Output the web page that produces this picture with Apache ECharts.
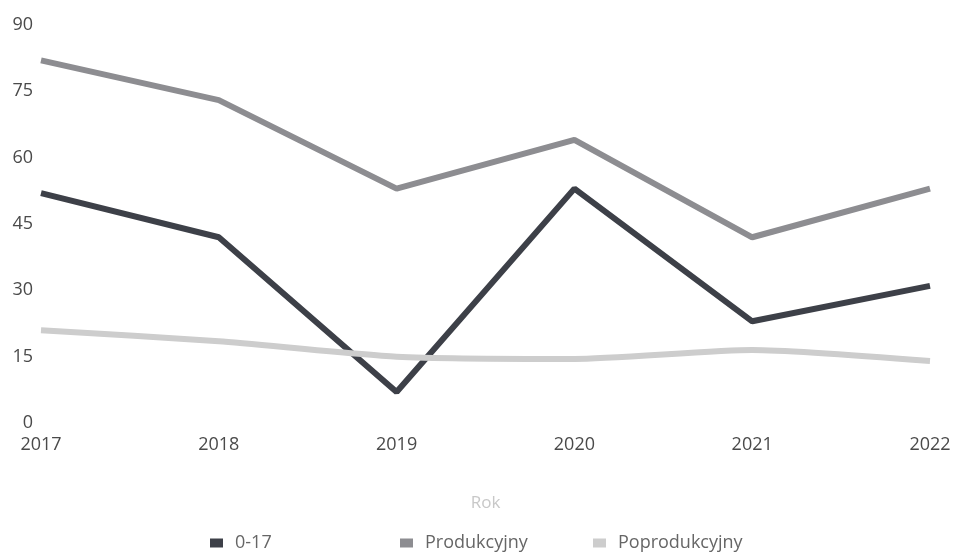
<!DOCTYPE html>
<html>
<head>
<meta charset="utf-8">
<script src="https://cdn.jsdelivr.net/npm/echarts@6/dist/echarts.min.js"></script>
<style>
    html, body { margin: 0; padding: 0; background: #fff; }
    #chart { width: 957px; height: 556px; }
</style>
</head>
<body>
<div id="chart"></div>
<script>
// dane
var years = ["2017", "2018", "2019", "2020", "2021", "2022"];
var mlodzi = [52, 42, 7, 53, 23, 31];
var produkcyjny = [82, 73, 53, 64, 42, 53];
var poprodukcyjny = [21, 18.5, 15, 14.5, 16.5, 14];
var yTicks = [0, 15, 30, 45, 60, 75, 90];

(function () {
    var myChart = echarts.init(document.getElementById("chart"));
    var font = "'Open Sans', 'Noto Sans', sans-serif";
    var colors = ["#3d4048", "#8d8d91", "#cdcdcd"];

    // osobna legenda dla kazdej serii, zeby ustawic pozycje jak w oryginale
    function legendItem(name, left) {
        return {
            data: [name],
            left: left,
            top: 529,
            icon: "rect",
            itemWidth: 13,
            itemHeight: 9,
            textStyle: {
                color: "#666",
                fontSize: 18,
                fontFamily: font,
                padding: [0, 0, 0, 7]
            }
        };
    }

    var option = {
        color: colors,
        animation: false,
        grid: {
            left: 41,
            right: 27,
            top: 25,
            bottom: 133,
            containLabel: false
        },
        legend: [
            legendItem("0-17", 205),
            legendItem("Produkcyjny", 395),
            legendItem("Poprodukcyjny", 588)
        ],
        xAxis: {
            type: "category",
            data: years,
            boundaryGap: false,
            name: "Rok",
            nameLocation: "middle",
            nameGap: 72,
            nameTextStyle: { color: "#c8c8c8", fontSize: 17, fontFamily: font },
            axisLine: { show: false },
            axisTick: { show: false },
            axisLabel: { color: "#4a4a4a", fontSize: 18, fontFamily: font, margin: 13 }
        },
        yAxis: {
            type: "value",
            min: yTicks[0],
            max: yTicks[yTicks.length - 1],
            interval: 15,
            axisLine: { show: false },
            axisTick: { show: false },
            splitLine: { show: false },
            axisLabel: {
                color: "#4a4a4a",
                fontSize: 18,
                fontFamily: font,
                margin: 8
            }
        },
        series: [
            {
                name: "0-17",
                type: "line",
                data: mlodzi,
                symbol: "none",
                lineStyle: { width: 6, color: colors[0] }
            },
            {
                name: "Produkcyjny",
                type: "line",
                data: produkcyjny,
                symbol: "none",
                lineStyle: { width: 6, color: colors[1] }
            },
            {
                name: "Poprodukcyjny",
                type: "line",
                data: poprodukcyjny,
                symbol: "none",
                smooth: 0.2,
                lineStyle: { width: 6, color: colors[2] }
            }
        ]
    };
    myChart.setOption(option);
})();
</script>
</body>
</html>
